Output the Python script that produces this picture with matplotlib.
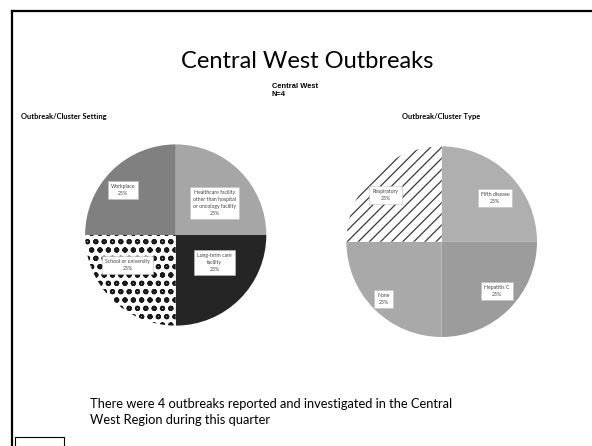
import matplotlib
matplotlib.use('Agg')
import matplotlib.pyplot as plt
from matplotlib.lines import Line2D
from matplotlib.patches import Rectangle

plt.rcParams['font.family'] = ['Lato', 'DejaVu Sans']

# data
setting_labels = ['Healthcare facility\nother than hospital\nor oncology facility',
                  'Long-term care\nfacility', 'School or university', 'Workplace']
setting_counts = [1, 1, 1, 1]
type_labels = ['Fifth disease', 'Hepatitis C', 'None', 'Respiratory']
type_counts = [1, 1, 1, 1]

# styles
setting_colors = ['#a6a6a6', '#252525', 'white', '#808080']
setting_hatch = [None, None, 'oo', None]
setting_label_pos = [(0.43, 0.35), (0.43, -0.30), (-0.53, -0.33), (-0.58, 0.50)]
type_colors = ['#afafaf', '#9c9c9c', '#a9a9a9', 'white']
type_hatch = [None, None, None, '///']
type_label_pos = [(0.56, 0.46), (0.58, -0.52), (-0.61, -0.60), (-0.59, 0.49)]

W, H = 592, 446
fig = plt.figure(figsize=(W / 100, H / 100), dpi=100)


def px(x, y):
    return x / W, 1 - y / H


def draw_pie(cx, cy, r, counts, labels, colors, hatches, label_pos, hatch_color, hatch_lw):
    ax = fig.add_axes([(cx - r) / W, 1 - (cy + r) / H, 2 * r / W, 2 * r / H])
    with plt.rc_context({'hatch.linewidth': hatch_lw}):
        wedges, _ = ax.pie(counts, colors=colors, startangle=90, counterclock=False,
                           radius=1, wedgeprops=dict(linewidth=0))
    ax.set_xlim(-1, 1)
    ax.set_ylim(-1, 1)
    ax.axis('off')
    total = sum(counts)
    for w, h in zip(wedges, hatches):
        if h:
            w.set_hatch(h)
            w.set_edgecolor(hatch_color)
    for lab, c, (lx, ly) in zip(labels, counts, label_pos):
        ax.text(lx, ly, '%s\n%d%%' % (lab, round(100 * c / total)),
                ha='center', va='center', fontsize=3.7, color='#404040',
                linespacing=1.5,
                bbox=dict(boxstyle='square,pad=0.6', fc='white', ec='#bfbfbf', lw=0.4))
    return ax


ax1 = draw_pie(175.7, 235, 90.6, setting_counts, setting_labels, setting_colors,
               setting_hatch, setting_label_pos, '#1a1a1a', 1.4)
ax2 = draw_pie(441.7, 241.7, 95.3, type_counts, type_labels, type_colors,
               type_hatch, type_label_pos, '#3a3a3a', 0.9)

# text
fig.text(*px(307, 61), 'Central West Outbreaks', ha='center', va='center', fontsize=17)
fig.text(*px(272, 90.5), 'Central West\nN=4', ha='left', va='center', fontsize=5.4,
         fontweight='bold', family='Liberation Sans', linespacing=1.4)
fig.text(*px(21.5, 116), 'Outbreak/Cluster Setting', ha='left', va='center',
         fontsize=5.4, fontweight='bold')
fig.text(*px(401.5, 116), 'Outbreak/Cluster Type', ha='left', va='center',
         fontsize=5.4, fontweight='bold')
fig.text(*px(90.5, 412.5),
         'There were 4 outbreaks reported and investigated in the Central\n'
         'West Region during this quarter',
         ha='left', va='center', fontsize=9.3, linespacing=1.4)

# slide frame
fig.add_artist(Line2D([11.5 / W, 1], [1 - 10.5 / H] * 2, transform=fig.transFigure,
                      color='black', lw=1.6))
fig.add_artist(Line2D([11.5 / W] * 2, [0, 1 - 10.5 / H], transform=fig.transFigure,
                      color='black', lw=1.6))
fig.add_artist(Rectangle(px(15, 452), 49 / W, 15 / H, transform=fig.transFigure,
                         fill=False, ec='black', lw=0.8))

fig.savefig('out.png', dpi=100)
